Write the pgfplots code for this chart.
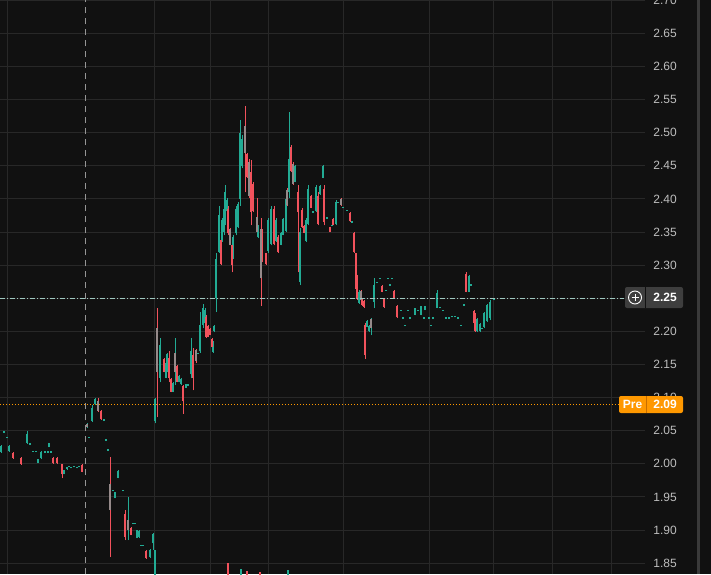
\documentclass[border=0pt]{standalone}
\usepackage{pgfplots}
\usepackage{pgfplotstable}
\pgfplotsset{compat=1.18}
\usepackage{fontspec}
\setmainfont{Liberation Sans}
\definecolor{bgc}{RGB}{17,17,17}
\definecolor{gridc}{RGB}{40,40,40}
\definecolor{upc}{RGB}{34,171,148}
\definecolor{dnc}{RGB}{242,82,92}
\definecolor{gyc}{RGB}{150,138,138}
\definecolor{lblc}{RGB}{190,190,190}
\definecolor{prec}{RGB}{255,152,0}
\definecolor{predark}{RGB}{200,110,0}
\definecolor{btnc}{RGB}{62,62,62}
\definecolor{stripc}{RGB}{58,58,58}
\definecolor{crossc}{RGB}{150,150,150}
\definecolor{lastc}{RGB}{160,200,192}

% x = bar position (px), l = low, h = high, b = body bottom, t = body top
\pgfplotstableread{
x l h b t
1 2.017 2.028 2.018 2.027
4 2.047 2.049 2.047 2.049
7 2.039 2.041 2.039 2.041
9 2.018 2.028 2.019 2.027
27 2.030 2.049 2.032 2.045
30 2.029 2.031 2.029 2.031
33 2.018 2.020 2.018 2.020
36 2.018 2.020 2.018 2.020
38 2.001 2.008 2.001 2.008
41 2.008 2.019 2.009 2.018
45 2.017 2.019 2.017 2.019
48 2.017 2.019 2.017 2.019
49 2.025 2.031 2.025 2.031
51 2.017 2.019 2.017 2.019
64 1.984 1.990 1.984 1.990
67 1.991 1.996 1.992 1.996
69 1.995 1.997 1.995 1.997
71 1.993 1.996 1.993 1.996
74 1.995 1.997 1.995 1.997
77 1.993 1.996 1.993 1.996
79 1.995 1.997 1.995 1.997
89 2.039 2.041 2.039 2.041
92 2.063 2.089 2.065 2.085
95 2.089 2.099 2.090 2.098
104 2.065 2.067 2.065 2.067
106 2.035 2.037 2.035 2.037
108 2.020 2.022 2.020 2.022
113 1.959 1.961 1.959 1.961
115 1.948 1.957 1.948 1.957
118 1.978 1.990 1.979 1.989
123 1.959 1.961 1.959 1.961
133 1.909 1.911 1.909 1.911
135 1.909 1.911 1.909 1.911
137 1.888 1.900 1.888 1.900
139 1.888 1.900 1.890 1.899
141 1.876 1.878 1.876 1.878
143 1.876 1.878 1.876 1.878
150 1.858 1.872 1.859 1.870
153 1.870 1.896 1.880 1.894
155 2.061 2.100 2.065 2.098
160 2.123 2.190 2.130 2.180
166 2.129 2.153 2.130 2.152
167 2.138 2.168 2.140 2.166
173 2.108 2.123 2.109 2.122
179 2.123 2.134 2.124 2.133
181 2.119 2.129 2.120 2.128
186 2.114 2.121 2.115 2.120
188 2.118 2.120 2.118 2.120
191 2.129 2.190 2.135 2.170
198 2.166 2.168 2.166 2.168
200 2.168 2.229 2.170 2.210
203 2.205 2.242 2.210 2.235
205 2.209 2.235 2.212 2.232
213 2.168 2.186 2.169 2.185
214 2.199 2.209 2.200 2.208
216 2.229 2.319 2.250 2.310
219 2.319 2.390 2.320 2.375
222 2.335 2.371 2.337 2.368
224 2.345 2.390 2.350 2.385
225 2.360 2.421 2.370 2.410
227 2.380 2.401 2.382 2.399
233 2.310 2.345 2.312 2.343
236 2.345 2.390 2.348 2.385
238 2.356 2.395 2.358 2.392
240 2.390 2.519 2.400 2.500
242 2.446 2.496 2.450 2.490
258 2.341 2.360 2.342 2.358
268 2.319 2.371 2.322 2.368
271 2.330 2.390 2.332 2.385
276 2.335 2.371 2.337 2.368
281 2.330 2.350 2.331 2.348
283 2.345 2.371 2.346 2.369
286 2.350 2.405 2.352 2.400
289 2.401 2.531 2.410 2.460
295 2.425 2.451 2.426 2.449
300 2.270 2.356 2.275 2.350
306 2.335 2.371 2.337 2.368
308 2.360 2.421 2.362 2.415
313 2.379 2.381 2.379 2.381
316 2.380 2.421 2.382 2.418
320 2.406 2.421 2.407 2.420
323 2.431 2.451 2.432 2.450
327 2.370 2.372 2.370 2.372
332 2.359 2.361 2.359 2.361
336 2.360 2.398 2.362 2.395
338 2.394 2.396 2.394 2.396
343 2.386 2.388 2.386 2.388
347 2.382 2.384 2.382 2.384
352 2.364 2.366 2.364 2.366
359 2.242 2.262 2.243 2.260
367 2.206 2.217 2.207 2.216
369 2.199 2.209 2.200 2.208
374 2.236 2.280 2.245 2.270
377 2.273 2.275 2.273 2.275
380 2.279 2.281 2.279 2.281
386 2.261 2.263 2.261 2.263
388 2.279 2.281 2.279 2.281
390 2.269 2.271 2.269 2.271
392 2.279 2.281 2.279 2.281
401 2.231 2.233 2.231 2.233
403 2.219 2.221 2.219 2.221
405 2.208 2.210 2.208 2.210
408 2.231 2.233 2.231 2.233
410 2.219 2.221 2.219 2.221
415 2.224 2.236 2.225 2.235
418 2.231 2.233 2.231 2.233
421 2.224 2.239 2.225 2.238
424 2.219 2.221 2.219 2.221
425 2.232 2.239 2.232 2.239
429 2.219 2.221 2.219 2.221
431 2.208 2.210 2.208 2.210
433 2.219 2.221 2.219 2.221
437 2.235 2.262 2.236 2.258
440 2.235 2.237 2.235 2.237
443 2.231 2.233 2.231 2.233
446 2.219 2.221 2.219 2.221
449 2.219 2.221 2.219 2.221
452 2.221 2.223 2.221 2.223
455 2.221 2.223 2.221 2.223
458 2.219 2.221 2.219 2.221
461 2.208 2.210 2.208 2.210
464 2.239 2.241 2.239 2.241
469 2.259 2.285 2.260 2.283
471 2.269 2.271 2.269 2.271
477 2.199 2.220 2.200 2.218
480 2.199 2.212 2.200 2.211
482 2.203 2.205 2.203 2.205
484 2.205 2.229 2.207 2.227
487 2.214 2.242 2.216 2.240
490 2.217 2.247 2.220 2.245
494 2.247 2.251 2.248 2.250
}\tblG

\pgfplotstableread{
x l h b t
13 2.008 2.018 2.009 2.017
21 1.999 2.010 2.000 2.009
53 2.000 2.010 2.001 2.009
57 2.000 2.010 2.001 2.009
62 1.978 2.000 1.985 2.000
82 1.987 2.000 1.988 1.999
101 2.066 2.081 2.067 2.080
125 1.885 1.930 1.890 1.925
131 1.892 1.904 1.893 1.903
146 1.857 1.870 1.858 1.869
164 2.138 2.160 2.139 2.158
169 2.123 2.171 2.130 2.160
171 2.108 2.129 2.109 2.128
177 2.123 2.149 2.124 2.147
183 2.076 2.119 2.095 2.118
193 2.111 2.175 2.130 2.165
206 2.190 2.224 2.192 2.222
208 2.191 2.209 2.192 2.208
210 2.194 2.205 2.195 2.204
212 2.176 2.190 2.177 2.189
221 2.300 2.341 2.302 2.338
228 2.345 2.390 2.348 2.385
232 2.289 2.341 2.300 2.330
247 2.431 2.470 2.433 2.468
251 2.360 2.458 2.380 2.440
253 2.380 2.425 2.382 2.422
262 2.304 2.355 2.306 2.350
266 2.300 2.319 2.301 2.318
274 2.330 2.390 2.332 2.385
278 2.319 2.345 2.320 2.343
291 2.440 2.481 2.442 2.478
298 2.289 2.421 2.380 2.410
302 2.356 2.386 2.358 2.384
304 2.348 2.360 2.349 2.359
311 2.386 2.406 2.387 2.404
318 2.360 2.410 2.362 2.405
324 2.360 2.421 2.365 2.415
330 2.350 2.357 2.350 2.357
333 2.360 2.371 2.361 2.370
350 2.365 2.380 2.366 2.379
354 2.319 2.350 2.320 2.348
356 2.262 2.319 2.264 2.318
357 2.247 2.285 2.249 2.283
362 2.239 2.250 2.240 2.249
364 2.236 2.247 2.237 2.246
365 2.159 2.212 2.165 2.210
382 2.259 2.270 2.260 2.269
384 2.236 2.250 2.237 2.249
394 2.250 2.262 2.251 2.261
397 2.220 2.240 2.221 2.239
466 2.259 2.289 2.260 2.287
474 2.212 2.232 2.213 2.231
475 2.199 2.227 2.200 2.225
}\tblR

% red wick, grey body
\pgfplotstableread{
x l h b t
98 2.078 2.100 2.080 2.095
110 1.859 2.010 1.930 1.970
157 2.070 2.235 2.138 2.205
196 2.153 2.174 2.155 2.172
230 2.330 2.356 2.331 2.355
245 2.410 2.541 2.470 2.510
249 2.401 2.461 2.405 2.455
257 2.345 2.401 2.350 2.372
261 2.239 2.371 2.280 2.355
287 2.390 2.416 2.391 2.414
293 2.421 2.455 2.423 2.452
341 2.390 2.401 2.391 2.400
361 2.247 2.262 2.248 2.261
}\tblRG

% green wick, grey body
\pgfplotstableread{
x l h b t
87 2.054 2.061 2.055 2.060
128 1.885 1.950 1.900 1.915
175 2.119 2.190 2.138 2.168
371 2.194 2.220 2.205 2.218
}\tblGG

% volume bars peeking in at the bottom
\pgfplotstableread{
x l h
155 1.80 1.870
241 1.80 1.842
288 1.80 1.840
}\volG
\pgfplotstableread{
x l h
228 1.80 1.851
247 1.80 1.838
260 1.80 1.837
}\volR

\begin{document}
\begin{tikzpicture}
\useasboundingbox (0,0) rectangle (711pt,574pt);
\clip (0,0) rectangle (711pt,574pt);
\fill[bgc] (0,0) rectangle (711pt,574pt);
\begin{axis}[
  at={(0,0)}, anchor=south west,
  scale only axis, width=711pt, height=574pt,
  xmin=0, xmax=711, ymin=1.8337, ymax=2.7003,
  axis line style={draw=none},
  tick style={draw=none},
  xtick={7,154,210,268,343,429,493,552,611},
  xticklabels={},
  xmajorgrids,
  grid style={gridc, line width=1pt},
  ytick={1.85,1.90,1.95,2.00,2.05,2.10,2.15,2.20,2.30,2.35,2.40,2.45,2.50,2.55,2.60,2.65,2.70},
  yticklabel pos=right,
  yticklabel style={anchor=east, xshift=-34pt, inner sep=0pt, text=lblc, font=\fontsize{12}{14}\selectfont},
  /pgf/number format/.cd, fixed, fixed zerofill, precision=2, assume math mode=true,
]
\pgfplotsinvokeforeach{1.85,1.90,1.95,2.00,2.05,2.10,2.15,2.20,2.25,2.30,2.35,2.40,2.45,2.50,2.55,2.60,2.65,2.70}{
  \draw[gridc, line width=1pt] (axis cs:0,#1) -- (axis cs:645,#1);
}
% crosshair
\addplot[crossc, line width=1pt, dash pattern=on 6pt off 5pt] coordinates {(85,1.80) (85,2.75)};
% volume bars
\addplot[quiver={u=0, v=\thisrow{h}-\thisrow{l}}, draw=upc, line width=1.2pt] table[x=x, y=l] {\volG};
\addplot[quiver={u=0, v=\thisrow{h}-\thisrow{l}}, draw=dnc, line width=1.2pt] table[x=x, y=l] {\volR};
% candles: wicks
\addplot[quiver={u=0, v=\thisrow{h}-\thisrow{l}}, draw=upc, line width=1pt] table[x=x, y=l] {\tblG};
\addplot[quiver={u=0, v=\thisrow{h}-\thisrow{l}}, draw=dnc, line width=1pt] table[x=x, y=l] {\tblR};
\addplot[quiver={u=0, v=\thisrow{h}-\thisrow{l}}, draw=dnc, line width=1pt] table[x=x, y=l] {\tblRG};
\addplot[quiver={u=0, v=\thisrow{h}-\thisrow{l}}, draw=upc, line width=1pt] table[x=x, y=l] {\tblGG};
% candles: bodies
\addplot[quiver={u=0, v=\thisrow{t}-\thisrow{b}}, draw=upc, line width=2pt] table[x=x, y=b] {\tblG};
\addplot[quiver={u=0, v=\thisrow{t}-\thisrow{b}}, draw=dnc, line width=2pt] table[x=x, y=b] {\tblR};
\addplot[quiver={u=0, v=\thisrow{t}-\thisrow{b}}, draw=gyc, line width=2pt] table[x=x, y=b] {\tblRG};
\addplot[quiver={u=0, v=\thisrow{t}-\thisrow{b}}, draw=gyc, line width=2pt] table[x=x, y=b] {\tblGG};
% last price and pre-market lines
\addplot[lastc, line width=1pt, dash pattern=on 5pt off 2pt on 1pt off 2pt] coordinates {(0,2.25) (624,2.25)};
\addplot[prec, line width=1pt, dash pattern=on 1pt off 2pt] coordinates {(0,2.09) (619,2.09)};
\end{axis}
% right-hand strip
\fill[stripc] (697pt,0) rectangle (700pt,574pt);
% last price label 2.25
\fill[btnc, rounded corners=2pt] (625pt,266pt) rectangle (683pt,287pt);
\draw[bgc, line width=1pt] (645.5pt,266pt) -- (645.5pt,287pt);
\draw[white, line width=0.9pt] (635pt,276.5pt) circle (6.5pt);
\draw[white, line width=0.9pt] (631.5pt,276.5pt) -- (638.5pt,276.5pt) (635pt,273pt) -- (635pt,280pt);
\node[anchor=east, inner sep=0pt, text=white, font=\fontsize{12}{14}\selectfont\bfseries] at (677pt,276.5pt) {2.25};
% pre-market label
\fill[prec, rounded corners=2pt] (619pt,161pt) rectangle (683pt,178pt);
\draw[predark, line width=0.8pt] (646pt,161pt) -- (646pt,178pt);
\node[inner sep=0pt, text=white, font=\fontsize{12}{14}\selectfont\bfseries] at (632.5pt,169.5pt) {Pre};
\node[anchor=east, inner sep=0pt, text=white, font=\fontsize{12}{14}\selectfont\bfseries] at (677pt,169.5pt) {2.09};
\end{tikzpicture}
\end{document}
